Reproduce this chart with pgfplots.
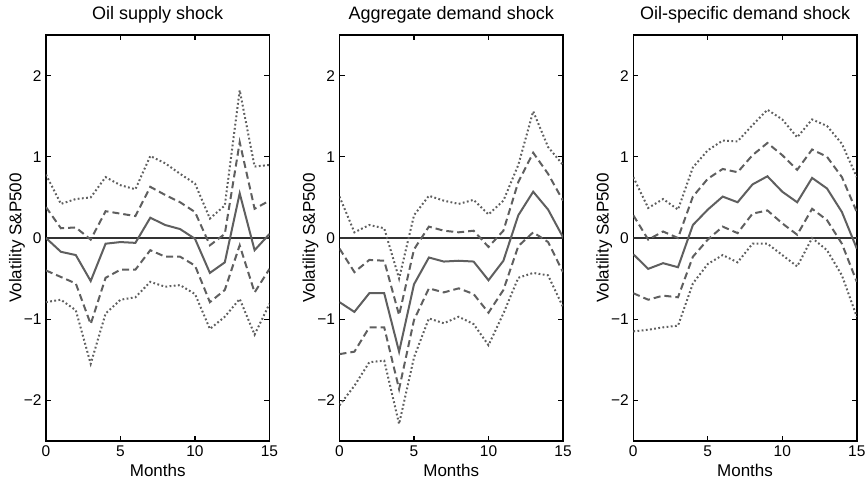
\documentclass[border=0pt]{standalone}
\usepackage{fontspec}
\setmainfont{Liberation Sans}
\usepackage{pgfplots}
\usepackage{pgfplotstable}
\pgfplotsset{compat=1.18}

\pgfplotstableread{
x m du dl pu pl
0 0.00 0.38 -0.40 0.78 -0.79
1 -0.17 0.12 -0.48 0.42 -0.76
2 -0.21 0.13 -0.56 0.48 -0.89
3 -0.53 -0.02 -1.06 0.50 -1.55
4 -0.07 0.33 -0.49 0.75 -0.93
5 -0.05 0.30 -0.39 0.65 -0.76
6 -0.06 0.27 -0.39 0.60 -0.73
7 0.25 0.63 -0.15 1.01 -0.54
8 0.16 0.53 -0.23 0.92 -0.60
9 0.11 0.44 -0.23 0.79 -0.58
10 -0.01 0.32 -0.34 0.67 -0.69
11 -0.43 -0.09 -0.79 0.24 -1.12
12 -0.30 0.05 -0.64 0.40 -0.97
13 0.55 1.18 -0.09 1.82 -0.75
14 -0.15 0.36 -0.67 0.88 -1.19
15 0.05 0.46 -0.38 0.90 -0.81
}\tA

\pgfplotstableread{
x m du dl pu pl
0 -0.79 -0.13 -1.43 0.51 -2.06
1 -0.91 -0.42 -1.40 0.07 -1.82
2 -0.68 -0.27 -1.10 0.16 -1.53
3 -0.68 -0.28 -1.10 0.12 -1.51
4 -1.40 -0.95 -1.86 -0.50 -2.29
5 -0.57 -0.14 -1.01 0.28 -1.47
6 -0.24 0.14 -0.62 0.52 -0.99
7 -0.29 0.09 -0.67 0.46 -1.05
8 -0.28 0.07 -0.62 0.42 -0.97
9 -0.29 0.09 -0.69 0.47 -1.06
10 -0.52 -0.11 -0.92 0.29 -1.32
11 -0.28 0.09 -0.64 0.46 -0.93
12 0.28 0.69 -0.10 0.90 -0.49
13 0.57 1.05 0.07 1.56 -0.43
14 0.35 0.79 -0.05 1.12 -0.46
15 0.01 0.46 -0.42 0.90 -0.85
}\tB

\pgfplotstableread{
x m du dl pu pl
0 -0.20 0.28 -0.68 0.75 -1.15
1 -0.38 -0.02 -0.76 0.37 -1.13
2 -0.31 0.08 -0.71 0.48 -1.10
3 -0.36 0.00 -0.73 0.35 -1.08
4 0.16 0.51 -0.23 0.87 -0.56
5 0.35 0.73 -0.02 1.08 -0.32
6 0.51 0.85 0.14 1.20 -0.21
7 0.44 0.81 0.06 1.19 -0.30
8 0.66 1.02 0.30 1.39 -0.07
9 0.76 1.17 0.34 1.58 -0.07
10 0.57 1.02 0.18 1.46 -0.21
11 0.44 0.84 0.04 1.24 -0.35
12 0.74 1.09 0.36 1.46 0.00
13 0.61 1.00 0.22 1.38 -0.15
14 0.32 0.75 -0.07 1.16 -0.46
15 -0.13 0.32 -0.54 0.75 -0.97
}\tC

\definecolor{lc}{RGB}{95,95,95}
\definecolor{zc}{RGB}{50,50,50}

\pgfplotsset{
  panel/.style={
    scale only axis,
    width=223.5pt, height=406pt,
    anchor=south west,
    xmin=0, xmax=15, ymin=-2.5, ymax=2.5,
    xtick={0,5,10,15},
    ytick={-2,-1,0,1,2},
    yticklabels={−2,−1,0,1,2},
    xticklabels={0,5,10,15},
    tick align=inside,
    major tick length=5pt,
    axis line style={line width=1.6pt, black},
    every tick/.style={black, line width=1.1pt},
    tick label style={font=\fontsize{15.5}{17}\selectfont},
    xticklabel style={yshift=-1pt},
    yticklabel style={xshift=-1pt},
    title style={font=\fontsize{18}{20}\selectfont, at={(axis description cs:0.5,1)}, anchor=base, yshift=10pt},
    xlabel style={font=\fontsize{17}{19}\selectfont, at={(axis description cs:0.5,0)}, anchor=base, yshift=-35pt},
    ylabel style={font=\fontsize{17}{19}\selectfont, at={(axis description cs:-0.13,0.5)}, anchor=center},
    xlabel={Months},
    ylabel={Volatility S\&P500},
    clip=true,
  },
  mline/.style={lc, line width=2pt, solid},
  dline/.style={lc, line width=2pt, dash pattern=on 7pt off 4pt},
  pline/.style={lc, line width=2pt, dash pattern=on 1.8pt off 2.4pt},
  zline/.style={zc, line width=1.5pt},
}

\begin{document}
\begin{tikzpicture}[x=1pt,y=1pt]
\useasboundingbox (0,0) rectangle (868,-479);

\begin{axis}[panel, at={(46pt,-441pt)}, title={Oil supply shock}]
\addplot[zline] coordinates {(0,0) (15,0)};
\addplot[pline] table[x=x,y=pu]{\tA};
\addplot[pline] table[x=x,y=pl]{\tA};
\addplot[dline] table[x=x,y=du]{\tA};
\addplot[dline] table[x=x,y=dl]{\tA};
\addplot[mline] table[x=x,y=m]{\tA};
\end{axis}

\begin{axis}[panel, at={(339.5pt,-441pt)}, title={Aggregate demand shock}]
\addplot[zline] coordinates {(0,0) (15,0)};
\addplot[pline] table[x=x,y=pu]{\tB};
\addplot[pline] table[x=x,y=pl]{\tB};
\addplot[dline] table[x=x,y=du]{\tB};
\addplot[dline] table[x=x,y=dl]{\tB};
\addplot[mline] table[x=x,y=m]{\tB};
\end{axis}

\begin{axis}[panel, at={(633.3pt,-441pt)}, title={Oil-specific demand shock}]
\addplot[zline] coordinates {(0,0) (15,0)};
\addplot[pline] table[x=x,y=pu]{\tC};
\addplot[pline] table[x=x,y=pl]{\tC};
\addplot[dline] table[x=x,y=du]{\tC};
\addplot[dline] table[x=x,y=dl]{\tC};
\addplot[mline] table[x=x,y=m]{\tC};
\end{axis}
\end{tikzpicture}
\end{document}
